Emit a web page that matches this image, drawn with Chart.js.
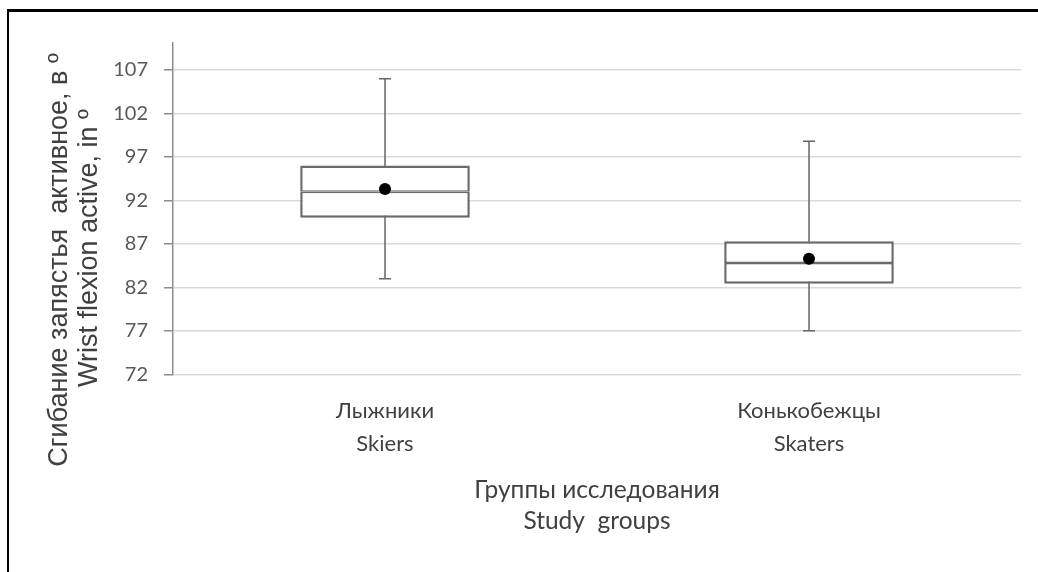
<!DOCTYPE html>
<html>
<head>
<meta charset="utf-8">
<script src="https://cdn.jsdelivr.net/npm/chart.js@4.4.1/dist/chart.umd.min.js"></script>
<style>
    html, body { margin:0; padding:0; background:#fff; }
    #wrap { position:relative; width:1038px; height:572px; overflow:hidden; }
    #frame { position:absolute; left:7px; top:9px; right:0; bottom:0; border-left:2px solid #000; border-top:3px solid #000; pointer-events:none; }
</style>
</head>
<body>
<div id="wrap">
    <canvas id="box-chart" width="1038" height="572"></canvas>
    <div id="frame"></div>
</div>
<script>
// Groups (x categories)
const groups = [['Лыжники', 'Skiers'], ['Конькобежцы', 'Skaters']];

// Box plot values
const whiskerMin = [83, 77];
const q1 = [90, 82.4];
const median = [93, 84.8];
const q3 = [96, 87.3];
const whiskerMax = [106, 98.8];
const means = [93.3, 85.3];

// Y axis
const yTicks = [72, 77, 82, 87, 92, 97, 102, 107];
const yMin = 72, yMax = 110.1;
const yTitle = ['Сгибание запястья  активное, в º', 'Wrist flexion active, in º'];
const xTitle = ['Группы исследования', 'Study  groups'];

const boxColor = '#6b6b6b';
const whiskerColor = '#666666';
const textColor = '#404040';
const sansCal = 'Lato, "Open Sans", sans-serif';

// whiskers drawn from the data through the scales, under the boxes
const whiskerPlugin = {
    id: 'whiskers',
    beforeDatasetsDraw(chart){
        const ctx = chart.ctx, x = chart.scales.x, y = chart.scales.y;
        ctx.save();
        ctx.strokeStyle = whiskerColor;
        ctx.lineWidth = 1.5;
        groups.forEach((g,i)=>{
            const px = x.getPixelForValue(i);
            const top = y.getPixelForValue(whiskerMax[i]);
            const bot = y.getPixelForValue(whiskerMin[i]);
            ctx.beginPath();
            ctx.moveTo(px, top); ctx.lineTo(px, bot);
            ctx.moveTo(px-6, top); ctx.lineTo(px+6, top);
            ctx.moveTo(px-6, bot); ctx.lineTo(px+6, bot);
            ctx.stroke();
        });
        ctx.restore();
    }
};

// rotated two-line y title (lines are not centred on the same point in the original)
const yTitlePlugin = {
    id: 'yTitle',
    afterDraw(chart){
        const ctx = chart.ctx;
        ctx.save();
        ctx.fillStyle = textColor;
        ctx.font = '27px "Liberation Sans", Arial, sans-serif';
        ctx.textAlign = 'center';
        ctx.textBaseline = 'alphabetic';
        const anchors = [[67, 260], [97, 248]];
        yTitle.forEach((t,i)=>{
            ctx.save();
            ctx.translate(anchors[i][0], anchors[i][1]);
            ctx.rotate(-Math.PI/2);
            ctx.fillText(t, 0, 0);
            ctx.restore();
        });
        ctx.restore();
    }
};

const boxSet = (label, data, bw) => ({
    label, data, backgroundColor:'#fff', borderColor:boxColor, borderWidth:bw,
    borderSkipped:false, grouped:false, barPercentage:0.4, categoryPercentage:1, order:2
});

const ctx = document.getElementById('box-chart').getContext('2d');
new Chart(ctx, {
    type: 'bar',
    data: {
        labels: groups,
        datasets: [
            boxSet('lower', q1.map((v,i)=>[v, median[i]]), { top:1.5, bottom:2.5, left:2.5, right:2.5 }),
            boxSet('upper', median.map((v,i)=>[v, q3[i]]), { top:2.5, bottom:1.5, left:2.5, right:2.5 }),
            { type:'line', label:'mean', data: means, showLine:false, pointRadius:6, pointBackgroundColor:'#000', pointBorderColor:'#000', pointBorderWidth:0, order:1 }
        ]
    },
    options: {
        responsive:false,
        animation:false,
        devicePixelRatio:1,
        layout:{ padding:{ top:43, right:17, left:0, bottom:0 } },
        plugins:{ legend:{ display:false }, tooltip:{ enabled:false } },
        scales:{
            x:{
                grid:{ display:false },
                border:{ display:false },
                ticks:{ color:textColor, padding:12, font:{ family:sansCal, size:22, lineHeight:1.5 } },
                title:{ display:true, text:xTitle, color:textColor, padding:{ top:0, bottom:35 }, font:{ family:sansCal, size:24.5, lineHeight:1.265 } },
                afterFit(scale){ scale.height = 572 - 374.3; }
            },
            y:{
                min:yMin, max:yMax,
                afterBuildTicks(scale){ scale.ticks = yTicks.map(v=>({ value:v })); },
                grid:{ color:'#d9d9d9', lineWidth:1.5, tickColor:'#8c8c8c', tickLength:9 },
                border:{ display:true, color:'#8c8c8c', width:1.5 },
                ticks:{ color:'#595959', padding:16, font:{ family:sansCal, size:20 } },
                afterFit(scale){ scale.width = 173; }
            }
        }
    },
    plugins:[whiskerPlugin, yTitlePlugin]
});
</script>
</body>
</html>
